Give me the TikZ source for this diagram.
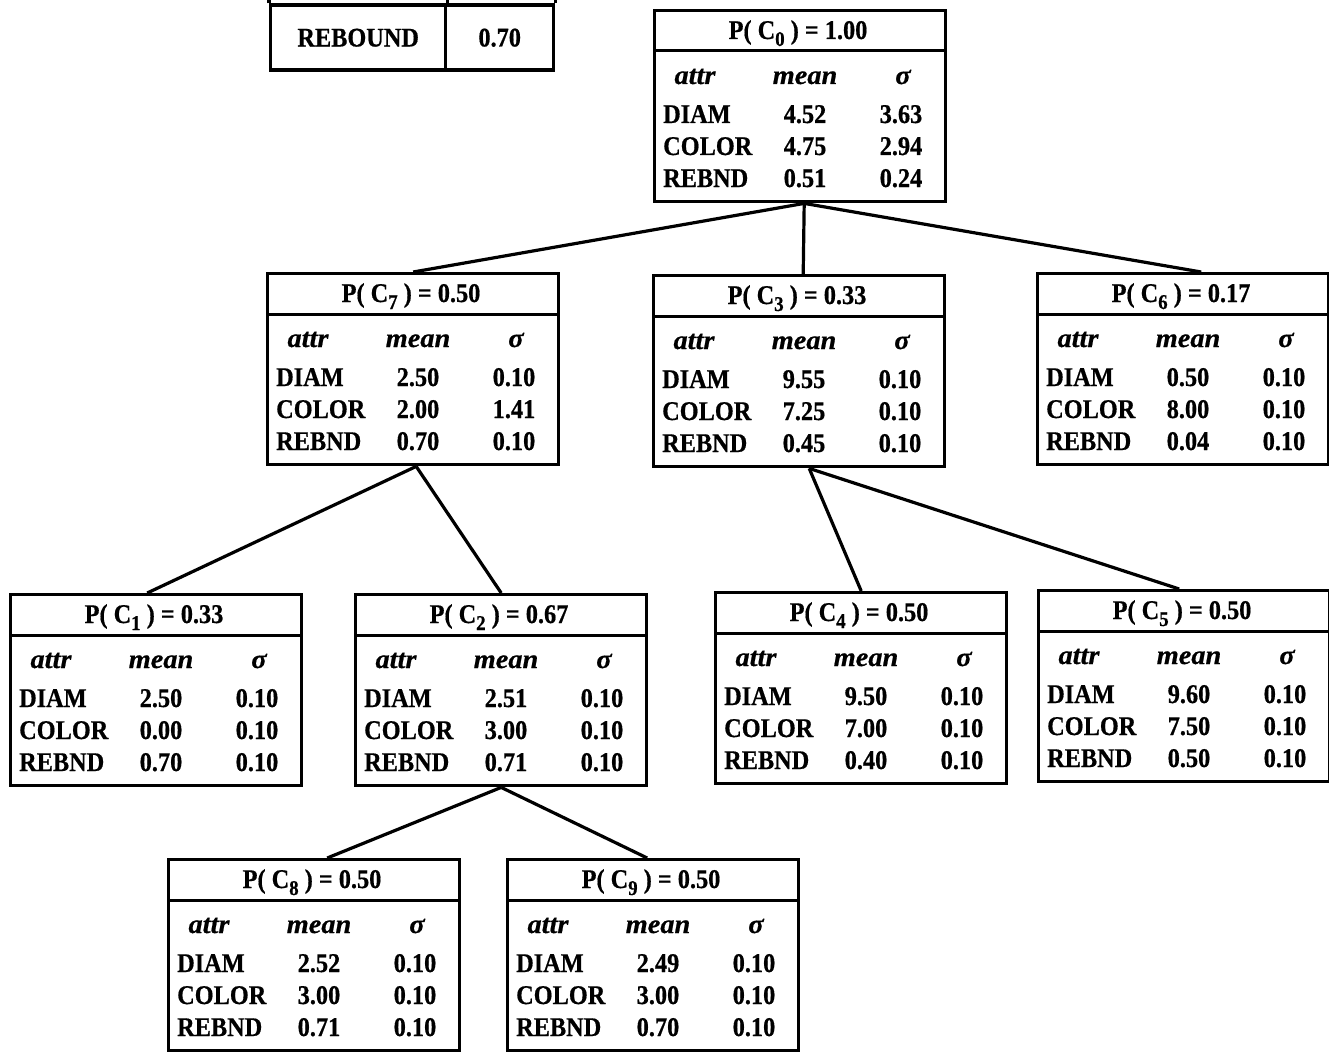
\documentclass[tikz,border=0pt]{standalone}
\usepackage{fontspec}
\setmainfont{Liberation Serif}[FakeStretch=0.9, BoldFeatures={FakeBold=0.6}, BoldItalicFeatures={FakeBold=0.6}]
\newfontfamily\hdfont{Liberation Serif}[FakeStretch=1.05, BoldItalicFeatures={FakeBold=0.6}]
\usetikzlibrary{calc}
\tikzset{
  cbox/.style={draw, line width=3.4pt, minimum width=291pt, minimum height=191pt, inner sep=0pt, anchor=north west},
  txt/.style={inner sep=0pt, font=\fontsize{27}{30}\selectfont\bfseries},
  hd/.style={inner sep=0pt, font=\fontsize{27}{30}\selectfont\hdfont\bfseries\itshape},
  link/.style={line width=3.2pt},
  hline/.style={line width=3pt},
  rbox/.style={draw, line width=3.4pt, inner sep=0pt, anchor=north west, minimum height=65pt},
}
\newcommand\lowsub[1]{\raisebox{-7pt}{\fontsize{21}{21}\selectfont #1}}
\newcommand\cluster[5]{%
  \node[cbox] (#1) at (#2,#3) {};
  \node[txt, anchor=base] (#1-t) at ($(#1.north west)+(145,30)$) {P( C\lowsub{#4} ) = #5};
  \draw[hline] ($(#1.north west)+(0,42)$) -- ($(#1.north east)+(0,42)$);
  \node[hd, anchor=base] (#1-ha) at ($(#1.north west)+(42,75)$) {attr};
  \node[hd, anchor=base] (#1-hm) at ($(#1.north west)+(152,75)$) {mean};
  \node[hd, anchor=base] (#1-hs) at ($(#1.north west)+(250,75)$) {σ};
}
\newcommand\crow[5]{%
  \node[txt, anchor=base west] (#1-#3) at ($(#1.north west)+(10,#2)$) {#3};
  \node[txt, anchor=base] (#1-#3m) at ($(#1.north west)+(152,#2)$) {#4};
  \node[txt, anchor=base] (#1-#3s) at ($(#1.north west)+(248,#2)$) {#5};
}
\newcommand\rows[7]{%
  \crow{#1}{114}{DIAM}{#2}{#3}
  \crow{#1}{146}{COLOR}{#4}{#5}
  \crow{#1}{178}{REBND}{#6}{#7}
}
\begin{document}
\begin{tikzpicture}[x=1pt, y=-1pt]
\useasboundingbox (0,0) rectangle (1329,1051);
% partial table at top
\node[rbox, minimum width=175pt] (rb1) at (269,3.5) {};
\node[rbox, minimum width=108pt] (rb2) at (444,3.5) {};
\draw[link] (rb1.north west) -- ++(0,-10);
\draw[link] (rb1.north east) -- ++(0,-10);
\draw[link] (rb2.north east) -- ++(0,-10);
\node[txt] (rbl) at (rb1.center) {REBOUND};
\node[txt] (rbv) at (rb2.center) {0.70};
% clusters
\cluster{c0}{653}{9}{0}{1.00}
\rows{c0}{4.52}{3.63}{4.75}{2.94}{0.51}{0.24}
\cluster{c7}{266}{272}{7}{0.50}
\rows{c7}{2.50}{0.10}{2.00}{1.41}{0.70}{0.10}
\cluster{c3}{652}{274}{3}{0.33}
\rows{c3}{9.55}{0.10}{7.25}{0.10}{0.45}{0.10}
\cluster{c6}{1036}{272}{6}{0.17}
\rows{c6}{0.50}{0.10}{8.00}{0.10}{0.04}{0.10}
\cluster{c1}{9}{593}{1}{0.33}
\rows{c1}{2.50}{0.10}{0.00}{0.10}{0.70}{0.10}
\cluster{c2}{354}{593}{2}{0.67}
\rows{c2}{2.51}{0.10}{3.00}{0.10}{0.71}{0.10}
\cluster{c4}{714}{591}{4}{0.50}
\rows{c4}{9.50}{0.10}{7.00}{0.10}{0.40}{0.10}
\cluster{c5}{1037}{589}{5}{0.50}
\rows{c5}{9.60}{0.10}{7.50}{0.10}{0.50}{0.10}
\cluster{c8}{167}{858}{8}{0.50}
\rows{c8}{2.52}{0.10}{3.00}{0.10}{0.71}{0.10}
\cluster{c9}{506}{858}{9}{0.50}
\rows{c9}{2.49}{0.10}{3.00}{0.10}{0.70}{0.10}
% connectors
\draw[link] ($(c0.south)+(4,0)$) -- (c7.north);
\draw[link] ($(c0.south)+(4,0)$) -- ($(c3.north)+(4,0)$);
\draw[link] ($(c0.south)+(4,0)$) -- ($(c6.north)+(18,0)$);
\draw[link] ($(c7.south)+(3,0)$) -- ($(c1.north)+(-9,0)$);
\draw[link] ($(c7.south)+(3,0)$) -- (c2.north);
\draw[link] ($(c3.south)+(10,0)$) -- (c4.north);
\draw[link] ($(c3.south)+(10,0)$) -- ($(c5.north)+(-5,0)$);
\draw[link] (c2.south) -- ($(c8.north)+(13,0)$);
\draw[link] (c2.south) -- ($(c9.north)+(-6,0)$);
\end{tikzpicture}
\end{document}
